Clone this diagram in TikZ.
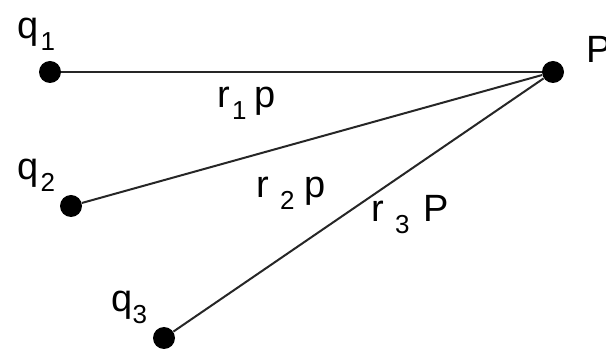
\documentclass[tikz,border=0pt]{standalone}
\usepackage{fontspec}
\setmainfont{Liberation Sans}
\usetikzlibrary{positioning}
\tikzset{
  chdot/.style={circle,fill=black,minimum size=11pt,inner sep=0pt},
  chline/.style={line width=1pt,draw=black!85},
  chlabel/.style={font=\fontsize{19}{19}\selectfont,inner sep=0pt,anchor=base west}
}
\newcommand{\chsub}[1]{\raisebox{-6pt}{\fontsize{13}{13}\selectfont #1}}

\begin{document}
\begin{tikzpicture}[x=0.5pt,y=-0.5pt]
  \useasboundingbox (0,0) rectangle (606,352);
  % charges and the field point
  \node[chdot] (q1) at (50,72) {};
  \node[chdot] (q2) at (71,206) {};
  \node[chdot] (q3) at (164,338) {};
  \node[chdot] (P) at (553,72) {};
  \draw[chline] (q1) -- (P);
  \draw[chline] (q2) -- (P);
  \draw[chline] (q3) -- (P);
  % names
  \node[chlabel] (q1lab) at (17,39) {q\hspace{1pt}\chsub{1}};
  \node[chlabel] (q2lab) at (17,180) {q\hspace{1pt}\chsub{2}};
  \node[chlabel] (q3lab) at (111,312) {q\chsub{3}};
  \node[chlabel] (Plab) at (586,63) {P};
  % distances
  \node[chlabel] (r1lab) at (217,108) {r\hspace{1pt}\chsub{1}\hspace{4pt}p};
  \node[chlabel] (r2lab) at (256,198) {r\hspace{5.5pt}\chsub{2}\hspace{5pt}p};
  \node[chlabel] (r3lab) at (371,222) {r\hspace{5.5pt}\chsub{3}\hspace{7pt}P};
\end{tikzpicture}
\end{document}
